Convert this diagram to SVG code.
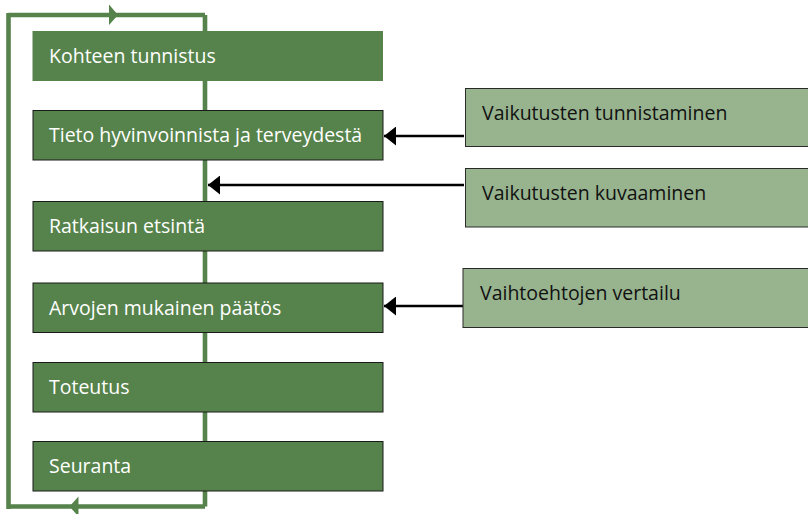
<svg xmlns="http://www.w3.org/2000/svg" width="808" height="514" viewBox="0 0 808 514">
  <style>
    .step { fill: #56834B; stroke: #1a1a1a; stroke-width: 1; }
    .step-first { fill: #56834B; }
    .side { fill: #98B48F; stroke: #2a2a2a; stroke-width: 1; }
    .label-w { font-family: "Open Sans", "Liberation Sans", sans-serif; font-size: 19.5px; fill: #ffffff; }
    .label-d { font-family: "Open Sans", "Liberation Sans", sans-serif; font-size: 19.5px; fill: #111111; }
    .loop { fill: none; stroke: #56834B; stroke-width: 4.6; }
    .feed { stroke: #000000; stroke-width: 2.3; fill: none; }
  </style>
  <defs>
    <marker id="head" markerUnits="userSpaceOnUse" markerWidth="12" markerHeight="19" refX="12" refY="9.5" orient="auto">
      <path d="M0,0 L12,9.5 L0,19 Z" fill="#000000"/>
    </marker>
  </defs>

  <!-- feedback loop and inputs -->
  <g id="connectors">
    <path class="loop" d="M205,506.5 L205,15 M8.5,15 L205,15 M8.5,13 L8.5,509 M6.2,506.5 L205,506.5"/>
    <polygon points="109,4.5 118,15 109,25" fill="#56834B"/>
    <polygon points="78.5,496.5 69.5,506.5 78.5,516.5" fill="#56834B"/>
    <line class="feed" x1="464" y1="136" x2="384" y2="136" marker-end="url(#head)"/>
    <line class="feed" x1="464" y1="185" x2="208" y2="185" marker-end="url(#head)"/>
    <line class="feed" x1="463" y1="306" x2="384" y2="306" marker-end="url(#head)"/>
  </g>

  <g id="kohteen-tunnistus">
    <rect class="step-first" x="32.5" y="31" width="350.5" height="50"/>
    <text class="label-w" x="49" y="63">Kohteen tunnistus</text>
  </g>
  <g id="tieto">
    <rect class="step" x="33" y="110.5" width="350" height="49.5"/>
    <text class="label-w" x="49" y="142">Tieto hyvinvoinnista ja terveydestä</text>
  </g>
  <g id="ratkaisu">
    <rect class="step" x="33" y="201.5" width="350" height="49.5"/>
    <text class="label-w" x="49" y="233">Ratkaisun etsintä</text>
  </g>
  <g id="paatos">
    <rect class="step" x="33" y="283" width="350" height="49.5"/>
    <text class="label-w" x="49" y="315">Arvojen mukainen päätös</text>
  </g>
  <g id="toteutus">
    <rect class="step" x="33" y="362.5" width="350" height="49.5"/>
    <text class="label-w" x="49" y="394">Toteutus</text>
  </g>
  <g id="seuranta">
    <rect class="step" x="33" y="441.5" width="350" height="49.5"/>
    <text class="label-w" x="49" y="473">Seuranta</text>
  </g>

  <g id="vaikutusten-tunnistaminen">
    <rect class="side" x="465.5" y="88.5" width="350" height="58"/>
    <text class="label-d" x="482" y="120">Vaikutusten tunnistaminen</text>
  </g>
  <g id="vaikutusten-kuvaaminen">
    <rect class="side" x="465.5" y="168.5" width="350" height="58.5"/>
    <text class="label-d" x="482" y="200">Vaikutusten kuvaaminen</text>
  </g>
  <g id="vaihtoehtojen-vertailu">
    <rect class="side" x="463" y="268.5" width="350" height="59"/>
    <text class="label-d" x="480" y="300">Vaihtoehtojen vertailu</text>
  </g>
</svg>
